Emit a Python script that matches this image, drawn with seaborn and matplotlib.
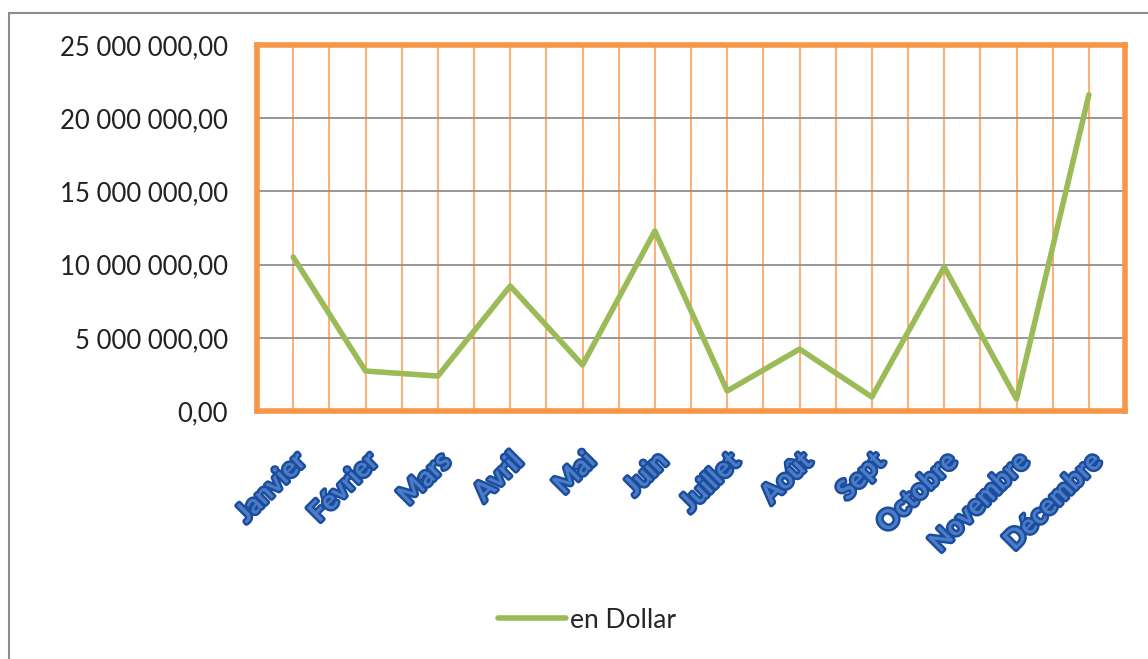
import numpy as np
import pandas as pd
import seaborn as sns
import matplotlib.pyplot as plt
import matplotlib.patheffects as pe
import matplotlib.transforms as mtransforms
from matplotlib.patches import Rectangle
from matplotlib.ticker import FuncFormatter, MultipleLocator

months = ["Janvier", "Février", "Mars", "Avril", "Mai", "Juin",
          "Juillet", "Août", "Sept", "Octobre", "Novembre", "Décembre"]
dollars = [10520000, 2730000, 2390000, 8540000, 3140000, 12300000,
           1370000, 4230000, 960000, 9840000, 820000, 21600000]
y_ticks = [0, 5000000, 10000000, 15000000, 20000000, 25000000]

df = pd.DataFrame({"mois": months, "en Dollar": dollars})

sns.set_style("white")
plt.rcParams["font.family"] = ["Lato", "DejaVu Sans"]

fig = plt.figure(figsize=(11.48, 6.59), dpi=100)
# outer chart frame (bottom/right edges run off the picture)
fig.patches.append(Rectangle((9 / 1148, -0.1), 1.2, 1.1 - 13 / 659,
                             transform=fig.transFigure, fill=False,
                             edgecolor="#8c8c8c", linewidth=1.5))
ax = fig.add_axes([0.2239, 0.3763, 0.7561, 0.5554])

sns.lineplot(data=df, x="mois", y="en Dollar", sort=False, ax=ax,
             color="#9BBB59", linewidth=4, label="en Dollar")

ax.set_xlim(-0.5, len(months) - 0.5)
ax.set_ylim(0, 25000000)
ax.set_yticks(y_ticks)
ax.yaxis.set_major_formatter(FuncFormatter(
    lambda v, p: f"{v:,.2f}".replace(",", " ").replace(".", ",")))
ax.xaxis.set_minor_locator(MultipleLocator(0.5))

ax.grid(axis="y", color="#8f8f8f", linewidth=1.3)
ax.grid(axis="x", which="both", color="#FAB27A", linewidth=1.5)
ax.set_axisbelow(True)
for s in ax.spines.values():
    s.set_color("#F79646")
    s.set_linewidth(4)

ax.set_xlabel("")
ax.set_ylabel("")
ax.tick_params(axis="y", labelsize=18.5, pad=21, length=0, labelcolor="#222222")
ax.tick_params(axis="x", which="both", length=0)
ax.set_xticks(range(len(months)))
ax.set_xticklabels(months, rotation=45, ha="right", va="top",
                   rotation_mode="anchor", fontsize=19.5, fontweight="bold",
                   color="#4a7cc8")
shift = mtransforms.ScaledTranslation(-7 / 100, 0, fig.dpi_scale_trans)
for t in ax.get_xticklabels():
    t.set_path_effects([pe.withStroke(linewidth=3.5, foreground="#1c4d9c")])
    t.set_transform(t.get_transform() + shift)
ax.tick_params(axis="x", pad=27)

ax.legend(loc="center", bbox_to_anchor=(0.38, -0.571), frameon=False,
          fontsize=19, handlelength=2.6, handletextpad=0.15)

fig.savefig("out.png", dpi=100)
